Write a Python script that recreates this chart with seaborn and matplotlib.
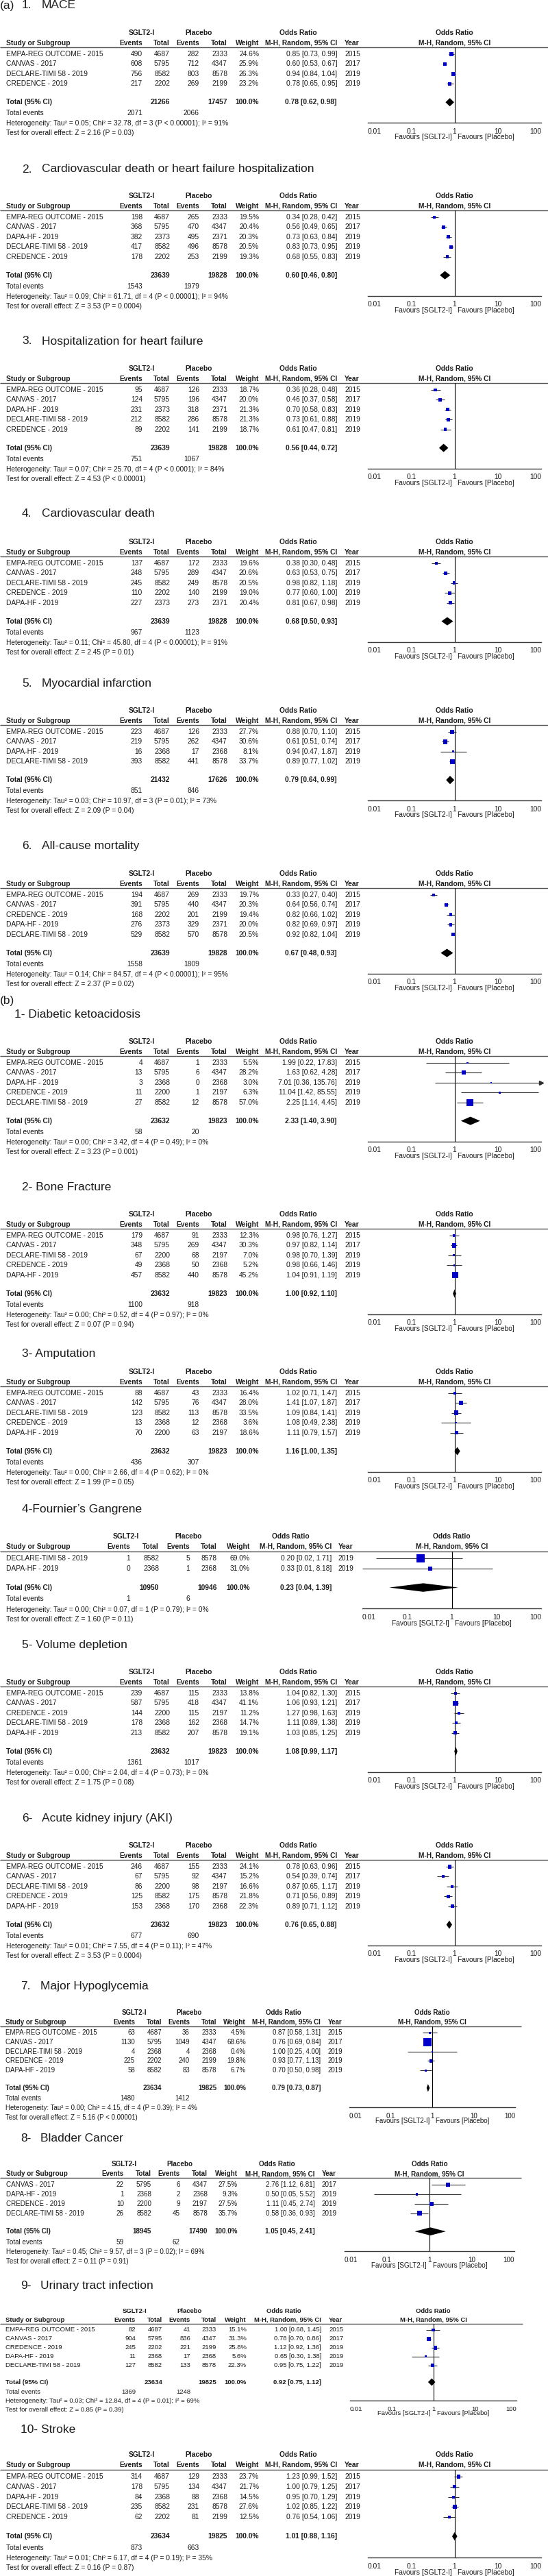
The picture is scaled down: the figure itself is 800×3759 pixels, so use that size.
import matplotlib

matplotlib.use("Agg")
import matplotlib.pyplot as plt
import numpy as np
import pandas as pd
import seaborn as sns
from matplotlib.ticker import NullLocator

W_PX, H_PX, DPI = 800, 3759, 100

TEXT = "#1c1c1c"
RULE_GREY = "#555555"
CI_GREY = "#2e2e2e"
BOX_BLUE = "#0000c8"

TABLE_FS = 7.4
TITLE_FS = 12.5

EMPA = "EMPA-REG OUTCOME - 2015"
CANVAS = "CANVAS - 2017"
DECLARE = "DECLARE-TIMI 58 - 2019"
CREDENCE = "CREDENCE - 2019"
DAPA = "DAPA-HF - 2019"

# ---------------- (a) efficacy outcomes ----------------
A1_TITLE = "1.\tMACE"
A1_STUDIES = [EMPA, CANVAS, DECLARE, CREDENCE]
A1_SGLT = [(490, 4687), (608, 5795), (756, 8582), (217, 2202)]
A1_PLAC = [(282, 2333), (712, 4347), (803, 8578), (269, 2199)]
A1_WEIGHT = [24.6, 25.9, 26.3, 23.2]
A1_OR = [(0.85, 0.73, 0.99), (0.60, 0.53, 0.67), (0.94, 0.84, 1.04), (0.78, 0.65, 0.95)]
A1_TOTALS = (21266, 17457)
A1_EVENTS = (2071, 2066)
A1_POOLED = (0.78, 0.62, 0.98)
A1_HET = "Heterogeneity: Tau² = 0.05; Chi² = 32.78, df = 3 (P < 0.00001); I² = 91%"
A1_TEST = "Test for overall effect: Z = 2.16 (P = 0.03)"

A2_TITLE = "2.\tCardiovascular death or heart failure hospitalization"
A2_STUDIES = [EMPA, CANVAS, DAPA, DECLARE, CREDENCE]
A2_SGLT = [(198, 4687), (368, 5795), (382, 2373), (417, 8582), (178, 2202)]
A2_PLAC = [(265, 2333), (470, 4347), (495, 2371), (496, 8578), (253, 2199)]
A2_WEIGHT = [19.5, 20.4, 20.3, 20.5, 19.3]
A2_OR = [(0.34, 0.28, 0.42), (0.56, 0.49, 0.65), (0.73, 0.63, 0.84), (0.83, 0.73, 0.95), (0.68, 0.55, 0.83)]
A2_TOTALS = (23639, 19828)
A2_EVENTS = (1543, 1979)
A2_POOLED = (0.60, 0.46, 0.80)
A2_HET = "Heterogeneity: Tau² = 0.09; Chi² = 61.71, df = 4 (P < 0.00001); I² = 94%"
A2_TEST = "Test for overall effect: Z = 3.53 (P = 0.0004)"

A3_TITLE = "3.\tHospitalization for heart failure"
A3_STUDIES = [EMPA, CANVAS, DAPA, DECLARE, CREDENCE]
A3_SGLT = [(95, 4687), (124, 5795), (231, 2373), (212, 8582), (89, 2202)]
A3_PLAC = [(126, 2333), (196, 4347), (318, 2371), (286, 8578), (141, 2199)]
A3_WEIGHT = [18.7, 20.0, 21.3, 21.3, 18.7]
A3_OR = [(0.36, 0.28, 0.48), (0.46, 0.37, 0.58), (0.70, 0.58, 0.83), (0.73, 0.61, 0.88), (0.61, 0.47, 0.81)]
A3_TOTALS = (23639, 19828)
A3_EVENTS = (751, 1067)
A3_POOLED = (0.56, 0.44, 0.72)
A3_HET = "Heterogeneity: Tau² = 0.07; Chi² = 25.70, df = 4 (P < 0.0001); I² = 84%"
A3_TEST = "Test for overall effect: Z = 4.53 (P < 0.00001)"

A4_TITLE = "4.\tCardiovascular death"
A4_STUDIES = [EMPA, CANVAS, DECLARE, CREDENCE, DAPA]
A4_SGLT = [(137, 4687), (248, 5795), (245, 8582), (110, 2202), (227, 2373)]
A4_PLAC = [(172, 2333), (289, 4347), (249, 8578), (140, 2199), (273, 2371)]
A4_WEIGHT = [19.6, 20.6, 20.5, 19.0, 20.4]
A4_OR = [(0.38, 0.30, 0.48), (0.63, 0.53, 0.75), (0.98, 0.82, 1.18), (0.77, 0.60, 1.00), (0.81, 0.67, 0.98)]
A4_TOTALS = (23639, 19828)
A4_EVENTS = (967, 1123)
A4_POOLED = (0.68, 0.50, 0.93)
A4_HET = "Heterogeneity: Tau² = 0.11; Chi² = 45.80, df = 4 (P < 0.00001); I² = 91%"
A4_TEST = "Test for overall effect: Z = 2.45 (P = 0.01)"

A5_TITLE = "5.\tMyocardial infarction"
A5_STUDIES = [EMPA, CANVAS, DAPA, DECLARE]
A5_SGLT = [(223, 4687), (219, 5795), (16, 2368), (393, 8582)]
A5_PLAC = [(126, 2333), (262, 4347), (17, 2368), (441, 8578)]
A5_WEIGHT = [27.7, 30.6, 8.1, 33.7]
A5_OR = [(0.88, 0.70, 1.10), (0.61, 0.51, 0.74), (0.94, 0.47, 1.87), (0.89, 0.77, 1.02)]
A5_TOTALS = (21432, 17626)
A5_EVENTS = (851, 846)
A5_POOLED = (0.79, 0.64, 0.99)
A5_HET = "Heterogeneity: Tau² = 0.03; Chi² = 10.97, df = 3 (P = 0.01); I² = 73%"
A5_TEST = "Test for overall effect: Z = 2.09 (P = 0.04)"

A6_TITLE = "6.\tAll-cause mortality"
A6_STUDIES = [EMPA, CANVAS, CREDENCE, DAPA, DECLARE]
A6_SGLT = [(194, 4687), (391, 5795), (168, 2202), (276, 2373), (529, 8582)]
A6_PLAC = [(269, 2333), (440, 4347), (201, 2199), (329, 2371), (570, 8578)]
A6_WEIGHT = [19.7, 20.3, 19.4, 20.0, 20.5]
A6_OR = [(0.33, 0.27, 0.40), (0.64, 0.56, 0.74), (0.82, 0.66, 1.02), (0.82, 0.69, 0.97), (0.92, 0.82, 1.04)]
A6_TOTALS = (23639, 19828)
A6_EVENTS = (1558, 1809)
A6_POOLED = (0.67, 0.48, 0.93)
A6_HET = "Heterogeneity: Tau² = 0.14; Chi² = 84.57, df = 4 (P < 0.00001); I² = 95%"
A6_TEST = "Test for overall effect: Z = 2.37 (P = 0.02)"

# ---------------- (b) safety outcomes ----------------
B1_TITLE = "1- Diabetic ketoacidosis"
B1_STUDIES = [EMPA, CANVAS, DAPA, CREDENCE, DECLARE]
B1_SGLT = [(4, 4687), (13, 5795), (3, 2368), (11, 2200), (27, 8582)]
B1_PLAC = [(1, 2333), (6, 4347), (0, 2368), (1, 2197), (12, 8578)]
B1_WEIGHT = [5.5, 28.2, 3.0, 6.3, 57.0]
B1_OR = [(1.99, 0.22, 17.83), (1.63, 0.62, 4.28), (7.01, 0.36, 135.76), (11.04, 1.42, 85.55), (2.25, 1.14, 4.45)]
B1_TOTALS = (23632, 19823)
B1_EVENTS = (58, 20)
B1_POOLED = (2.33, 1.40, 3.90)
B1_HET = "Heterogeneity: Tau² = 0.00; Chi² = 3.42, df = 4 (P = 0.49); I² = 0%"
B1_TEST = "Test for overall effect: Z = 3.23 (P = 0.001)"

B2_TITLE = "2- Bone Fracture"
B2_STUDIES = [EMPA, CANVAS, DECLARE, CREDENCE, DAPA]
B2_SGLT = [(179, 4687), (348, 5795), (67, 2200), (49, 2368), (457, 8582)]
B2_PLAC = [(91, 2333), (269, 4347), (68, 2197), (50, 2368), (440, 8578)]
B2_WEIGHT = [12.3, 30.3, 7.0, 5.2, 45.2]
B2_OR = [(0.98, 0.76, 1.27), (0.97, 0.82, 1.14), (0.98, 0.70, 1.39), (0.98, 0.66, 1.46), (1.04, 0.91, 1.19)]
B2_TOTALS = (23632, 19823)
B2_EVENTS = (1100, 918)
B2_POOLED = (1.00, 0.92, 1.10)
B2_HET = "Heterogeneity: Tau² = 0.00; Chi² = 0.52, df = 4 (P = 0.97); I² = 0%"
B2_TEST = "Test for overall effect: Z = 0.07 (P = 0.94)"

B3_TITLE = "3- Amputation"
B3_STUDIES = [EMPA, CANVAS, DECLARE, CREDENCE, DAPA]
B3_SGLT = [(88, 4687), (142, 5795), (123, 8582), (13, 2368), (70, 2200)]
B3_PLAC = [(43, 2333), (76, 4347), (113, 8578), (12, 2368), (63, 2197)]
B3_WEIGHT = [16.4, 28.0, 33.5, 3.6, 18.6]
B3_OR = [(1.02, 0.71, 1.47), (1.41, 1.07, 1.87), (1.09, 0.84, 1.41), (1.08, 0.49, 2.38), (1.11, 0.79, 1.57)]
B3_TOTALS = (23632, 19823)
B3_EVENTS = (436, 307)
B3_POOLED = (1.16, 1.00, 1.35)
B3_HET = "Heterogeneity: Tau² = 0.00; Chi² = 2.66, df = 4 (P = 0.62); I² = 0%"
B3_TEST = "Test for overall effect: Z = 1.99 (P = 0.05)"

B4_TITLE = "4-Fournier’s Gangrene"
B4_STUDIES = [DECLARE, DAPA]
B4_SGLT = [(1, 8582), (0, 2368)]
B4_PLAC = [(5, 8578), (1, 2368)]
B4_WEIGHT = [69.0, 31.0]
B4_OR = [(0.20, 0.02, 1.71), (0.33, 0.01, 8.18)]
B4_TOTALS = (10950, 10946)
B4_EVENTS = (1, 6)
B4_POOLED = (0.23, 0.04, 1.39)
B4_HET = "Heterogeneity: Tau² = 0.00; Chi² = 0.07, df = 1 (P = 0.79); I² = 0%"
B4_TEST = "Test for overall effect: Z = 1.60 (P = 0.11)"

B5_TITLE = "5- Volume depletion"
B5_STUDIES = [EMPA, CANVAS, CREDENCE, DECLARE, DAPA]
B5_SGLT = [(239, 4687), (587, 5795), (144, 2200), (178, 2368), (213, 8582)]
B5_PLAC = [(115, 2333), (418, 4347), (115, 2197), (162, 2368), (207, 8578)]
B5_WEIGHT = [13.8, 41.1, 11.2, 14.7, 19.1]
B5_OR = [(1.04, 0.82, 1.30), (1.06, 0.93, 1.21), (1.27, 0.98, 1.63), (1.11, 0.89, 1.38), (1.03, 0.85, 1.25)]
B5_TOTALS = (23632, 19823)
B5_EVENTS = (1361, 1017)
B5_POOLED = (1.08, 0.99, 1.17)
B5_HET = "Heterogeneity: Tau² = 0.00; Chi² = 2.04, df = 4 (P = 0.73); I² = 0%"
B5_TEST = "Test for overall effect: Z = 1.75 (P = 0.08)"

B6_TITLE = "6-\tAcute kidney injury (AKI)"
B6_STUDIES = [EMPA, CANVAS, DECLARE, CREDENCE, DAPA]
B6_SGLT = [(246, 4687), (67, 5795), (86, 2200), (125, 8582), (153, 2368)]
B6_PLAC = [(155, 2333), (92, 4347), (98, 2197), (175, 8578), (170, 2368)]
B6_WEIGHT = [24.1, 15.2, 16.6, 21.8, 22.3]
B6_OR = [(0.78, 0.63, 0.96), (0.54, 0.39, 0.74), (0.87, 0.65, 1.17), (0.71, 0.56, 0.89), (0.89, 0.71, 1.12)]
B6_TOTALS = (23632, 19823)
B6_EVENTS = (677, 690)
B6_POOLED = (0.76, 0.65, 0.88)
B6_HET = "Heterogeneity: Tau² = 0.01; Chi² = 7.55, df = 4 (P = 0.11); I² = 47%"
B6_TEST = "Test for overall effect: Z = 3.53 (P = 0.0004)"

B7_TITLE = "7.\tMajor Hypoglycemia"
B7_STUDIES = [EMPA, CANVAS, DECLARE, CREDENCE, DAPA]
B7_SGLT = [(63, 4687), (1130, 5795), (4, 2368), (225, 2202), (58, 8582)]
B7_PLAC = [(36, 2333), (1049, 4347), (4, 2368), (240, 2199), (83, 8578)]
B7_WEIGHT = [4.5, 68.6, 0.4, 19.8, 6.7]
B7_OR = [(0.87, 0.58, 1.31), (0.76, 0.69, 0.84), (1.00, 0.25, 4.00), (0.93, 0.77, 1.13), (0.70, 0.50, 0.98)]
B7_TOTALS = (23634, 19825)
B7_EVENTS = (1480, 1412)
B7_POOLED = (0.79, 0.73, 0.87)
B7_HET = "Heterogeneity: Tau² = 0.00; Chi² = 4.15, df = 4 (P = 0.39); I² = 4%"
B7_TEST = "Test for overall effect: Z = 5.16 (P < 0.00001)"

B8_TITLE = "8-\tBladder Cancer"
B8_STUDIES = [CANVAS, DAPA, CREDENCE, DECLARE]
B8_SGLT = [(22, 5795), (1, 2368), (10, 2200), (26, 8582)]
B8_PLAC = [(6, 4347), (2, 2368), (9, 2197), (45, 8578)]
B8_WEIGHT = [27.5, 9.3, 27.5, 35.7]
B8_OR = [(2.76, 1.12, 6.81), (0.50, 0.05, 5.52), (1.11, 0.45, 2.74), (0.58, 0.36, 0.93)]
B8_TOTALS = (18945, 17490)
B8_EVENTS = (59, 62)
B8_POOLED = (1.05, 0.45, 2.41)
B8_HET = "Heterogeneity: Tau² = 0.45; Chi² = 9.57, df = 3 (P = 0.02); I² = 69%"
B8_TEST = "Test for overall effect: Z = 0.11 (P = 0.91)"

B9_TITLE = "9-\tUrinary tract infection"
B9_STUDIES = [EMPA, CANVAS, CREDENCE, DAPA, DECLARE]
B9_SGLT = [(82, 4687), (904, 5795), (245, 2202), (11, 2368), (127, 8582)]
B9_PLAC = [(41, 2333), (836, 4347), (221, 2199), (17, 2368), (133, 8578)]
B9_WEIGHT = [15.1, 31.3, 25.8, 5.6, 22.3]
B9_OR = [(1.00, 0.68, 1.45), (0.78, 0.70, 0.86), (1.12, 0.92, 1.36), (0.65, 0.30, 1.38), (0.95, 0.75, 1.22)]
B9_TOTALS = (23634, 19825)
B9_EVENTS = (1369, 1248)
B9_POOLED = (0.92, 0.75, 1.12)
B9_HET = "Heterogeneity: Tau² = 0.03; Chi² = 12.84, df = 4 (P = 0.01); I² = 69%"
B9_TEST = "Test for overall effect: Z = 0.85 (P = 0.39)"

B10_TITLE = "10- Stroke"
B10_STUDIES = [EMPA, CANVAS, DAPA, DECLARE, CREDENCE]
B10_SGLT = [(314, 4687), (178, 5795), (84, 2368), (235, 8582), (62, 2202)]
B10_PLAC = [(129, 2333), (134, 4347), (88, 2368), (231, 8578), (81, 2199)]
B10_WEIGHT = [23.7, 21.7, 14.5, 27.6, 12.5]
B10_OR = [(1.23, 0.99, 1.52), (1.00, 0.79, 1.25), (0.95, 0.70, 1.29), (1.02, 0.85, 1.22), (0.76, 0.54, 1.06)]
B10_TOTALS = (23634, 19825)
B10_EVENTS = (873, 663)
B10_POOLED = (1.01, 0.88, 1.16)
B10_HET = "Heterogeneity: Tau² = 0.01; Chi² = 6.17, df = 4 (P = 0.19); I² = 35%"
B10_TEST = "Test for overall effect: Z = 0.16 (P = 0.87)"

# Column layouts of the RevMan tables (pixel positions).
LAYOUTS = {
    "std": dict(study=9, cols=(208, 248, 291, 332, 378, 492), year=503, hdr=(207, 290, 435),
                forest=(537, 790), line_end=800, font=1.0),
    "fg": dict(study=9, cols=(190, 232, 277, 317, 365, 484), year=494, hdr=(184, 275, 424),
               forest=(529, 790), line_end=800, font=1.0),
    "hypo": dict(study=8, cols=(197, 236, 277, 316, 359, 468), year=479, hdr=(196, 276, 414),
                 forest=(510, 752), line_end=761, font=0.95),
    "blad": dict(study=9, cols=(181, 221, 263, 303, 347, 460), year=470, hdr=(181, 262, 404),
                 forest=(503, 751), line_end=761, font=0.96),
    "uti": dict(study=8, cols=(198, 237, 278, 316, 360, 469), year=480, hdr=(197, 277, 414),
                forest=(511, 754), line_end=763, font=0.92),
}

# (prefix, title_y, title_x, header_y, layout, vertical scale)
PLACEMENT = {
    "A1": (8, 32, 48, "std", 1.0),
    "A2": (247, 32, 286, "std", 1.0),
    "A3": (498, 32, 538, "std", 1.0),
    "A4": (750, 32, 791, "std", 1.0),
    "A5": (997, 32, 1037, "std", 1.0),
    "A6": (1234, 32, 1275, "std", 1.0),
    "B1": (1480, 21, 1520, "std", 1.0),
    "B2": (1732, 32, 1772, "std", 1.0),
    "B3": (1975, 32, 2002, "std", 1.0),
    "B4": (2202, 32, 2242, "fg", 1.03),
    "B5": (2400, 32, 2440, "std", 1.0),
    "B6": (2653, 32, 2693, "std", 1.0),
    "B7": (2898, 30, 2937, "hypo", 0.95),
    "B8": (3120, 30, 3158, "blad", 0.97),
    "B9": (3335, 30, 3372, "uti", 0.9),
    "B10": (3545, 30, 3582, "std", 1.03),
}

ROW = 14.4  # base row pitch in pixels


def fmt_or(t):
    return f"{t[0]:.2f} [{t[1]:.2f}, {t[2]:.2f}]"


def draw_panel(fig, bg, key):
    g = globals()
    studies = g[f"{key}_STUDIES"]
    sglt, plac = g[f"{key}_SGLT"], g[f"{key}_PLAC"]
    weight, odds = g[f"{key}_WEIGHT"], g[f"{key}_OR"]
    totals, events, pooled = g[f"{key}_TOTALS"], g[f"{key}_EVENTS"], g[f"{key}_POOLED"]
    title_y, title_x, h1, lay_key, s = PLACEMENT[key]
    lay = LAYOUTS[lay_key]
    fs = TABLE_FS * lay["font"]

    def put(x, y, txt, ha="left", bold=False, size=fs):
        bg.text(x, y, txt, ha=ha, va="center", fontsize=size, color=TEXT,
                fontweight="bold" if bold else "normal")

    # title
    title = g[f"{key}_TITLE"]
    if "\t" in title:
        num, name = title.split("\t")
        put(title_x, title_y, num, size=TITLE_FS)
        put(title_x + 29, title_y, name, size=TITLE_FS)
    else:
        put(title_x, title_y, title, size=TITLE_FS)

    c_ev1, c_tot1, c_ev2, c_tot2, c_w, c_or = lay["cols"]
    fl, fr = lay["forest"]
    x_one = (fl + fr) / 2

    # header
    h2 = h1 + 14.5 * s
    line_y = h1 + 21 * s
    put(lay["hdr"][0], h1, "SGLT2-I", ha="center", bold=True)
    put(lay["hdr"][1], h1, "Placebo", ha="center", bold=True)
    put(lay["hdr"][2], h1, "Odds Ratio", ha="center", bold=True)
    put(x_one, h1, "Odds Ratio", ha="center", bold=True)
    put(lay["study"], h2, "Study or Subgroup", bold=True)
    for x, lab in [(c_ev1, "Events"), (c_tot1, "Total"), (c_ev2, "Events"), (c_tot2, "Total"),
                   (c_w, "Weight"), (c_or, "M-H, Random, 95% CI")]:
        put(x, h2, lab, ha="right", bold=True)
    put(lay["year"], h2, "Year", bold=True)
    put(x_one, h2, "M-H, Random, 95% CI", ha="center", bold=True)
    bg.hlines(line_y, 0, lay["line_end"], color=RULE_GREY, lw=1.0)

    # study rows
    for i, name in enumerate(studies):
        y = h1 + 31 * s + i * ROW * s
        put(lay["study"], y, name)
        put(c_ev1, y, str(sglt[i][0]), ha="right")
        put(c_tot1, y, str(sglt[i][1]), ha="right")
        put(c_ev2, y, str(plac[i][0]), ha="right")
        put(c_tot2, y, str(plac[i][1]), ha="right")
        put(c_w, y, f"{weight[i]:.1f}%", ha="right")
        put(c_or, y, fmt_or(odds[i]), ha="right")
        put(lay["year"], y, name[-4:])

    n = len(studies)
    y_tot = h1 + 31 * s + (n - 1) * ROW * s + 27 * s
    put(lay["study"], y_tot, "Total (95% CI)", bold=True)
    put(c_tot1, y_tot, str(totals[0]), ha="right", bold=True)
    put(c_tot2, y_tot, str(totals[1]), ha="right", bold=True)
    put(c_w, y_tot, "100.0%", ha="right", bold=True)
    put(c_or, y_tot, fmt_or(pooled), ha="right", bold=True)
    put(lay["study"], y_tot + 16 * s, "Total events")
    put(c_ev1, y_tot + 16 * s, str(events[0]), ha="right")
    put(c_ev2, y_tot + 16 * s, str(events[1]), ha="right")
    put(lay["study"], y_tot + 31 * s, g[f"{key}_HET"])
    put(lay["study"], y_tot + 45 * s, g[f"{key}_TEST"])

    axis_y = y_tot + 30 * s
    put(x_one - 4, axis_y + 21 * s, "Favours [SGLT2-I]", ha="right")
    put(x_one + 5, axis_y + 21 * s, "Favours [Placebo]", ha="left")

    # forest plot axes: y in row units, x on log odds ratio scale
    ax = fig.add_axes([fl / W_PX, 1 - axis_y / H_PX, (fr - fl) / W_PX, (axis_y - line_y) / H_PX])
    ax.set_facecolor("none")
    rows = np.arange(n)
    row_tot = n - 1 + 27 / ROW
    est = np.array([o[0] for o in odds])
    lo = np.array([o[1] for o in odds])
    hi = np.array([o[2] for o in odds])
    w = np.array(weight)

    ax.hlines(rows, lo, np.minimum(hi, 100), colors=CI_GREY, lw=0.8, zorder=2)
    over = hi > 100
    if over.any():
        ax.plot(np.full(over.sum(), 100.0), rows[over], ls="none", marker=">", ms=4,
                color=CI_GREY, clip_on=False, zorder=2)

    df = pd.DataFrame({"odds": est, "row": rows, "weight": w})
    side_pt = (2 + 0.14 * df["weight"].to_numpy()) * 0.72
    sns.scatterplot(data=df, x="odds", y="row", marker="s", s=side_pt ** 2, color=BOX_BLUE,
                    edgecolor=BOX_BLUE, linewidth=0, legend=False, ax=ax, zorder=3)

    dh = 0.42
    ax.fill([pooled[1], pooled[0], pooled[2], pooled[0]],
            [row_tot, row_tot - dh, row_tot, row_tot + dh], color="black", lw=0, zorder=3)

    ax.axvline(1, color="black", lw=0.8, zorder=1)
    ax.set_xscale("log")
    ax.set_xlim(0.01, 100)
    ax.set_ylim(row_tot + 30 / ROW, -10 / ROW)
    ax.set_xlabel("")
    ax.set_ylabel("")
    ax.set_yticks([])
    for side in ("top", "left", "right"):
        ax.spines[side].set_visible(False)
    ax.spines["bottom"].set_color("#3a3a3a")
    ax.spines["bottom"].set_linewidth(1.0)
    ax.set_xticks([0.01, 0.1, 1, 10, 100])
    ax.set_xticklabels(["0.01", "0.1", "1", "10", "100"])
    ax.xaxis.set_minor_locator(NullLocator())
    ax.tick_params(axis="x", direction="inout", length=8, width=1.0, color="#3a3a3a",
                   pad=1.5, labelsize=fs, labelcolor=TEXT)
    labels = ax.get_xticklabels()
    labels[0].set_ha("left")
    labels[-1].set_ha("right")


sns.set_style("white")
plt.rcParams["font.family"] = ["Liberation Sans", "DejaVu Sans"]

fig = plt.figure(figsize=(W_PX / DPI, H_PX / DPI), dpi=DPI, facecolor="white")
bg = fig.add_axes([0, 0, 1, 1])
bg.set_xlim(0, W_PX)
bg.set_ylim(H_PX, 0)
bg.axis("off")

bg.text(0, 8, "(a)", ha="left", va="center", fontsize=TITLE_FS, color=TEXT)
bg.text(0, 1460, "(b)", ha="left", va="center", fontsize=TITLE_FS, color=TEXT)

for key in PLACEMENT:
    draw_panel(fig, bg, key)

fig.savefig("out.png", dpi=DPI, facecolor="white")
